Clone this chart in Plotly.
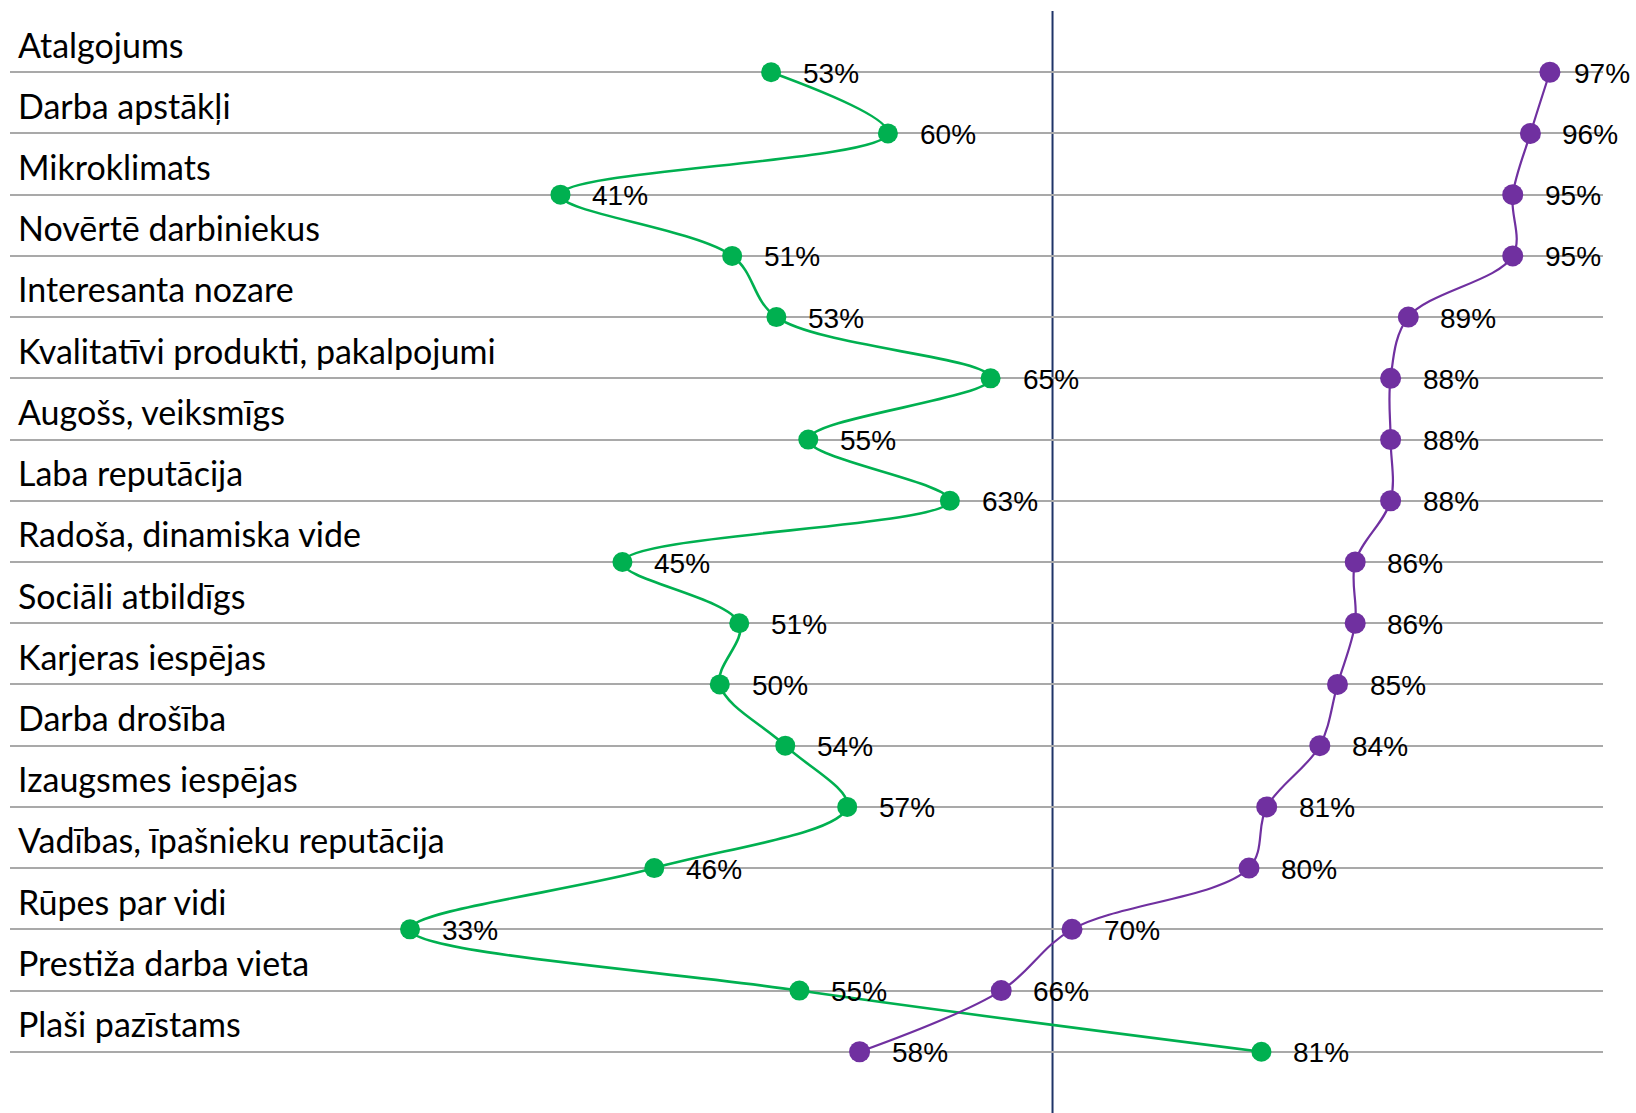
import plotly.graph_objects as go

categories = [
    "Atalgojums", "Darba apstākļi", "Mikroklimats", "Novērtē darbiniekus",
    "Interesanta nozare", "Kvalitatīvi produkti, pakalpojumi", "Augošs, veiksmīgs",
    "Laba reputācija", "Radoša, dinamiska vide", "Sociāli atbildīgs",
    "Karjeras iespējas", "Darba drošība", "Izaugsmes iespējas",
    "Vadības, īpašnieku reputācija", "Rūpes par vidi", "Prestiža darba vieta",
    "Plaši pazīstams",
]
green_values = [53.0, 59.6, 41.1, 50.8, 53.3, 65.4, 55.1, 63.1, 44.6, 51.2,
                50.1, 53.8, 57.3, 46.4, 32.6, 54.6, 80.7]
purple_values = [97.0, 95.9, 94.9, 94.9, 89.0, 88.0, 88.0, 88.0, 86.0, 86.0,
                 85.0, 84.0, 81.0, 80.0, 70.0, 66.0, 58.0]
reference_value = 68.9

GREEN = "#00b050"
PURPLE = "#7030a0"
NAVY = "#1f3468"

W, H = 1636, 1113
ML, MR = 10, 33
X_MIN, X_MAX = 10, 100
px_per_unit = (W - ML - MR) / (X_MAX - X_MIN)
LABEL_W = 58

y_pos = list(range(len(categories)))

fig = go.Figure()

fig.add_shape(type="line", x0=reference_value, x1=reference_value, y0=-1, y1=17,
              xref="x", yref="y", line=dict(color=NAVY, width=2), layer="below")

fig.add_trace(go.Scatter(
    x=green_values, y=y_pos, mode="lines+markers",
    line=dict(color=GREEN, width=2.6, shape="spline", smoothing=1.0),
    marker=dict(color=GREEN, size=20), showlegend=False, hoverinfo="skip"))
fig.add_trace(go.Scatter(
    x=purple_values, y=y_pos, mode="lines+markers",
    line=dict(color=PURPLE, width=2.2, shape="spline", smoothing=1.0),
    marker=dict(color=PURPLE, size=21), showlegend=False, hoverinfo="skip"))

annotations = []
for vals in (green_values, purple_values):
    for v, y in zip(vals, y_pos):
        px = ML + (v - X_MIN) * px_per_unit
        shift = min(30, (W - 6) - LABEL_W - px)
        annotations.append(dict(
            x=v, y=y, xref="x", yref="y", text=f"{round(v):d}%",
            showarrow=False, xanchor="left", yanchor="middle",
            xshift=shift, yshift=-1,
            font=dict(family="Liberation Sans, Arial", size=28, color="#000000")))
for c, y in zip(categories, y_pos):
    annotations.append(dict(
        x=0, y=y - 0.46, xref="paper", yref="y", text=c,
        showarrow=False, xanchor="left", yanchor="middle", xshift=6,
        font=dict(family="Lato, Carlito, Calibri", size=34, color="#000000")))

fig.update_layout(
    width=W, height=H,
    margin=dict(l=ML, r=MR, t=11, b=0),
    paper_bgcolor="white", plot_bgcolor="white",
    annotations=annotations,
    xaxis=dict(range=[X_MIN, X_MAX], showgrid=False, zeroline=False,
               showticklabels=False, showline=False, fixedrange=True),
    yaxis=dict(range=[17, -1], tickvals=list(range(-1, 17)), showgrid=True,
               gridcolor="#a9a9a9", gridwidth=2, zeroline=False,
               showticklabels=False, showline=False, fixedrange=True),
)

fig.write_html("out.html", config={"displayModeBar": False})
